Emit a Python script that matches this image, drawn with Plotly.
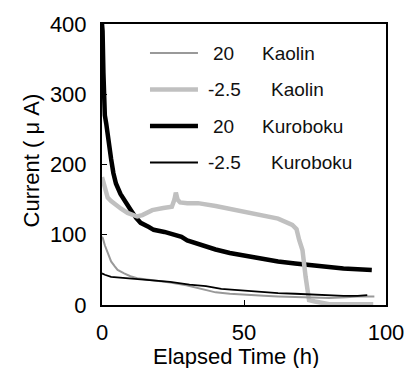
import plotly.graph_objects as go

# ---- data ----
t_kaolin_20 = [0, 0.3, 1, 2, 3.2, 4.5, 5.5, 7.8, 10, 12.4, 16.5, 19.3, 24, 29.7, 33.8, 36.6,
               40, 45, 51, 57, 62, 68, 74, 80, 86, 90, 95.9]
i_kaolin_20 = [97, 95, 85, 74, 62, 55, 50, 45, 41, 38, 36, 35, 32, 28, 24, 21,
               18, 16, 14, 13, 12, 11, 10, 10, 11, 12, 12]

t_kaolin_m25 = [0, 0.5, 1, 2, 3.2, 5.5, 6.7, 9, 12.4, 14.2, 15.9, 17.7, 21.6, 24.6, 25.5, 26,
                26.6, 27.5, 30, 33.8, 40, 45, 50, 57, 62, 67, 68.5, 69.4, 70.6, 71.7, 72.9,
                75, 78, 80, 85, 90, 95.5]
i_kaolin_m25 = [182, 175, 165, 153, 148, 140, 137, 131, 126, 128, 131, 135, 138, 140, 150, 160,
                150, 146, 145, 145, 141, 137, 133, 128, 123, 114, 108, 93, 78, 40, 7,
                5, 3, 1, 1, 1, 1]

t_kuro_20 = [0, 0.2, 0.5, 1, 1.5, 2, 2.6, 3.2, 4, 4.9, 6.5, 7.8, 10, 12, 13.6, 16.5, 18.2,
             22, 25, 28, 30, 33, 36, 40, 45, 50, 57, 62, 68, 74, 80, 85, 90, 95]
i_kuro_20 = [400, 390, 330, 270, 258, 240, 226, 208, 188, 173, 158, 149, 136, 124, 117, 111, 107,
             104, 101, 97, 92, 88, 83, 79, 74, 70, 66, 62, 59, 56, 53.5, 52, 51, 50]

t_kuro_m25 = [0, 0.5, 1, 3.2, 10, 17, 24, 30.8, 36.6, 42, 51, 57, 62, 68, 74, 79.7, 85, 90, 93.4]
i_kuro_m25 = [45, 44, 43, 40, 38, 36, 33, 29, 27, 23, 20, 18, 17, 16, 15, 13.5, 13, 13, 14]

legend_temps = ["20", "-2.5", "20", "-2.5"]
legend_soils = ["Kaolin", "Kaolin", "Kuroboku", "Kuroboku"]

x_ticks = [0, 50, 100]
y_ticks = [0, 100, 200, 300, 400]

FONT = "Liberation Sans, Arial, sans-serif"

styles = [
    dict(color="#999999", width=2),
    dict(color="#c0c0c0", width=4.5),
    dict(color="#000000", width=4.5),
    dict(color="#000000", width=1.8),
]

fig = go.Figure()
series = [
    (t_kuro_20, i_kuro_20, 2),
    (t_kaolin_m25, i_kaolin_m25, 1),
    (t_kaolin_20, i_kaolin_20, 0),
    (t_kuro_m25, i_kuro_m25, 3),
]
for t, i, k in series:
    fig.add_trace(go.Scatter(x=t, y=i, mode="lines", line=styles[k],
                             name=f"{legend_temps[k]} {legend_soils[k]}",
                             showlegend=False, hoverinfo="skip"))

FIG_W, FIG_H = 416, 368
L, R, T, B = 102, 392, 24, 305          # plot area in pixels
W, H = R - L, B - T


def px(x):
    return (x - L) / W


def py(y):
    return (B - y) / H


rows = [53, 89.5, 126, 162.5]
num_x = [214, 209, 214, 209]
name_x = [264, 274, 264, 274]
for k, ry in enumerate(rows):
    fig.add_shape(type="line", xref="paper", yref="paper",
                  x0=px(151), x1=px(200), y0=py(ry), y1=py(ry), line=styles[k])
    fig.add_annotation(xref="paper", yref="paper", x=px(num_x[k]), y=py(ry),
                       text=legend_temps[k], showarrow=False, xanchor="left", yanchor="middle",
                       font=dict(family=FONT, size=19, color="#111111"), borderpad=0)
    fig.add_annotation(xref="paper", yref="paper", x=px(name_x[k]), y=py(ry),
                       text=legend_soils[k], showarrow=False, xanchor="left", yanchor="middle",
                       font=dict(family=FONT, size=19, color="#111111"), borderpad=0)

# axis titles
fig.add_annotation(xref="paper", yref="paper", x=px(239), y=py(356),
                   text="Elapsed Time (h)", showarrow=False, xanchor="center", yanchor="middle",
                   font=dict(family=FONT, size=22, color="#000000"), borderpad=0)
fig.add_annotation(xref="paper", yref="paper", x=px(30), y=py(160),
                   text="Current ( μ A)", showarrow=False, textangle=-90,
                   xanchor="center", yanchor="middle",
                   font=dict(family=FONT, size=22, color="#000000"))

fig.update_layout(
    width=FIG_W, height=FIG_H,
    margin=dict(l=L, r=FIG_W - R, t=T, b=FIG_H - B, pad=0),
    paper_bgcolor="white", plot_bgcolor="white",
    font=dict(family=FONT, color="#000000"),
)
fig.update_xaxes(range=[0, 100], tickvals=x_ticks, ticktext=[str(v) for v in x_ticks],
                 ticks="inside", ticklen=5, tickwidth=1, tickcolor="black",
                 showline=True, linecolor="black", linewidth=2, mirror=True,
                 showgrid=False, zeroline=False, ticklabelstandoff=7,
                 tickfont=dict(family=FONT, size=22, color="#000000"))
fig.update_yaxes(range=[0, 400], tickvals=y_ticks, ticktext=[str(v) for v in y_ticks],
                 ticks="inside", ticklen=5, tickwidth=1, tickcolor="black",
                 showline=True, linecolor="black", linewidth=2, mirror=True,
                 showgrid=False, zeroline=False, ticklabelstandoff=9,
                 tickfont=dict(family=FONT, size=22, color="#000000"))

fig.write_html(
    "out.html",
    config={"displayModeBar": False},
    post_script="document.body.style.margin='0px';document.body.style.overflow='hidden';",
)
